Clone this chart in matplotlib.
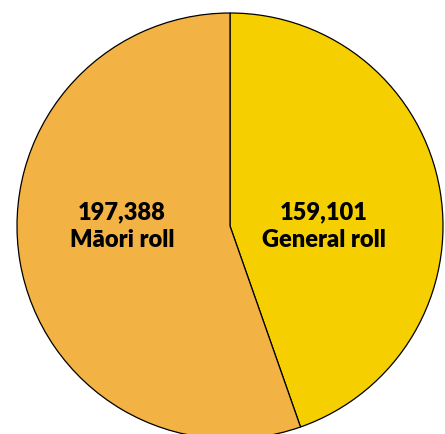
import matplotlib
matplotlib.use('Agg')
import matplotlib.pyplot as plt

# Datos del gráfico
etiquetas = ['General roll', 'Māori roll']
valores = [159101, 197388]
colores = ['#F5CF00', '#F2B244']

W, H = 445, 434
fig = plt.figure(figsize=(W / 100, H / 100), dpi=100)
ax = fig.add_axes([0, 0, 1, 1])

centro = (230, H - 226)
radio = 213
ax.pie(valores, colors=colores, startangle=90, counterclock=False,
       center=centro, radius=radio, frame=True,
       wedgeprops=dict(edgecolor='black', linewidth=0.9))
ax.set_xlim(0, W)
ax.set_ylim(0, H)
ax.set_aspect('equal')
ax.axis('off')

# Textos
posiciones = [(324, H - 226), (122, H - 226)]
for (x, y), nombre, v in zip(posiciones, etiquetas, valores):
    ax.text(x, y, f'{v:,}\n{nombre}', ha='center', va='center',
            fontsize=17, fontweight='heavy', family='Lato',
            linespacing=1.3, color='black')

fig.savefig('out.png', dpi=100)
